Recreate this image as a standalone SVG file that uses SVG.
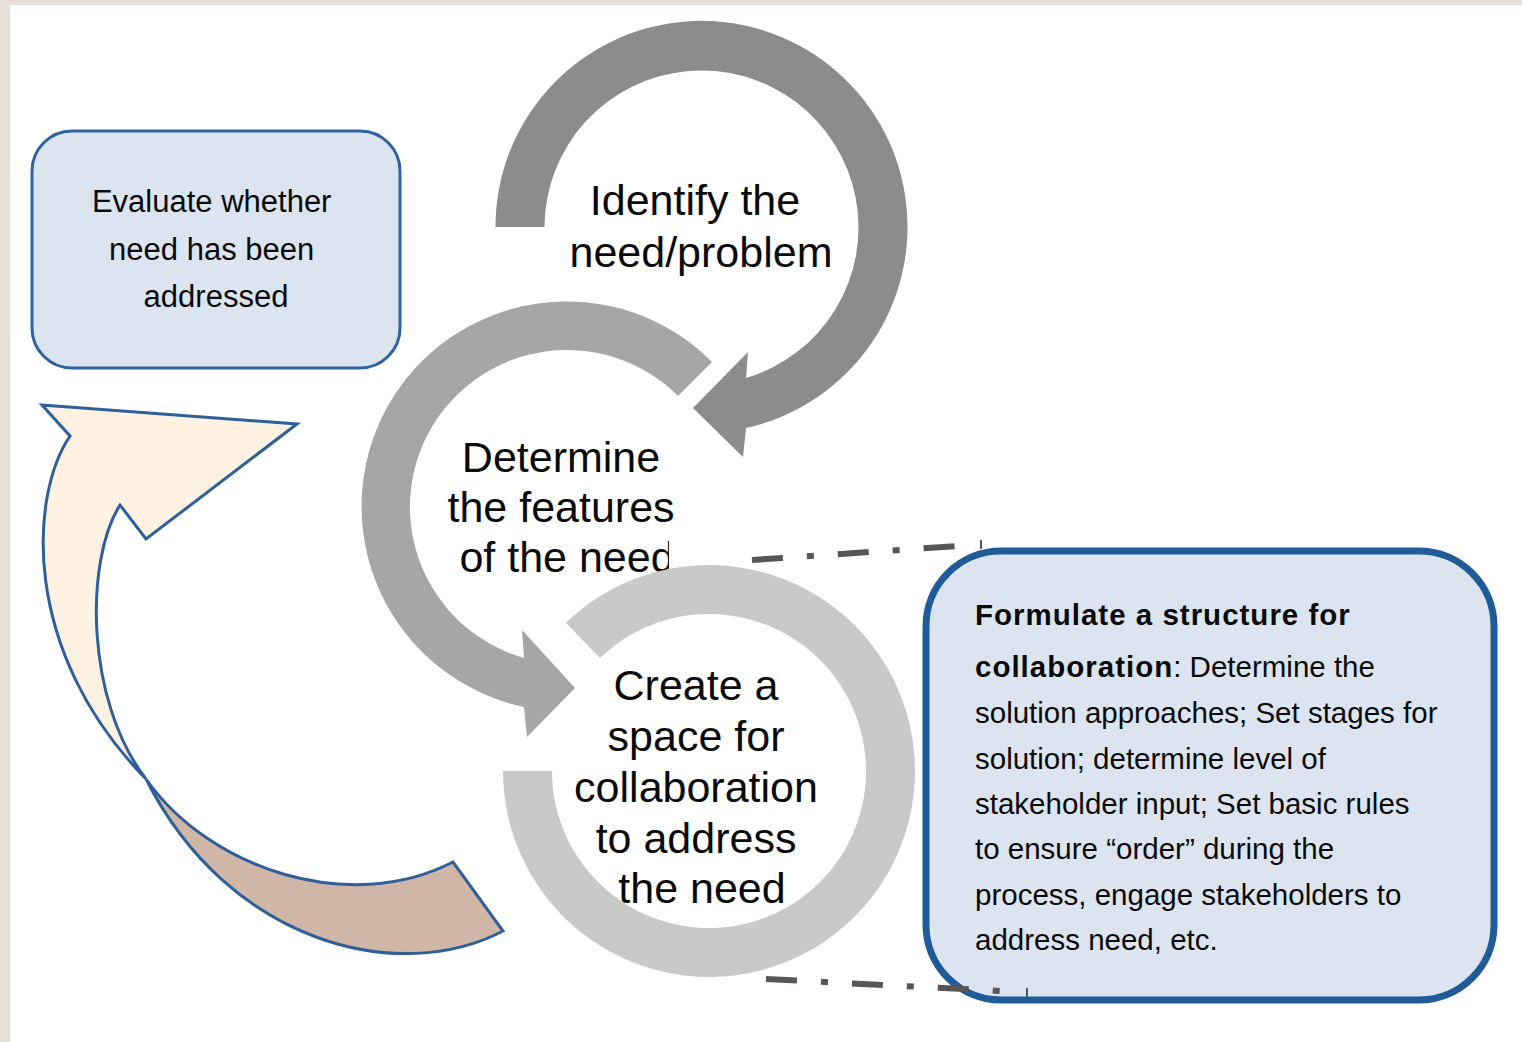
<svg xmlns="http://www.w3.org/2000/svg" width="1522" height="1042" viewBox="0 0 1522 1042">
<style>
  .t { font-family: "Liberation Sans", Arial, sans-serif; fill: #0a0a0a; }
  .big { font-size: 43px; text-anchor: middle; }
  .box { fill: #dce4f0; }
  .b1 { stroke: #2e63a0; stroke-width: 3; }
  .b2 { stroke: #1f5b99; stroke-width: 7; }
  .body { font-size: 29.5px; }
  .bold { font-weight: bold; letter-spacing: 1px; }
  .dd { fill: none; stroke: #595557; stroke-width: 6; stroke-dasharray: 31 24 7 24; }
  .tick { stroke: #595557; stroke-width: 2; }
  .ar { stroke: #2f5f9b; stroke-width: 3; stroke-linejoin: miter; }
</style>
<defs>
  <clipPath id="clipNeed">
    <rect x="430" y="420" width="270" height="113"/>
    <rect x="430" y="533" width="239" height="60"/>
  </clipPath>
</defs>
<rect x="0" y="0" width="1522" height="1042" fill="#ffffff"/>
<rect x="0" y="0" width="1522" height="5" fill="#e8e1da"/>
<rect x="0" y="0" width="10" height="1042" fill="#e8e1da"/>

<g id="evaluate">
  <rect class="box b1" x="32" y="131" width="368" height="237" rx="40" ry="40"/>
  <text class="t" font-size="31" text-anchor="middle">
    <tspan x="216" y="212">Evaluate whether</tspan>
    <tspan x="216" y="260">need has been</tspan>
    <tspan x="216" y="307">addressed</tspan>
  </text>
</g>

<g id="identify">
  <path fill="#8c8c8c" d="M 495.5,227 A 206 206 0 1 1 746,428 L 743,457 L 693,408 L 748,352 L 746,378 A 157 157 0 1 0 544.5,227 Z"/>
  <text class="t big">
    <tspan x="701" y="215">Identify the</tspan>
    <tspan x="701" y="267">need/problem</tspan>
  </text>
</g>

<g id="determine">
  <path fill="#a6a6a6" d="M 712,362 A 205 205 0 1 0 524,707 L 527,737 L 575,688 L 522,630 L 524,658 A 157 157 0 1 1 678,396 Z"/>
  <text class="t big" clip-path="url(#clipNeed)">
    <tspan x="567" y="472">Determine</tspan>
    <tspan x="567" y="522">the features</tspan>
    <tspan x="567" y="572">of the need</tspan>
  </text>
</g>

<g id="create">
  <path fill="#c9c9c9" d="M 503,771 A 206 206 0 1 0 565.9,622.8 L 599.9,658.1 A 157 157 0 1 1 552,771 Z"/>
  <text class="t big">
    <tspan x="702" y="700">Create a</tspan>
    <tspan x="702" y="751">space for</tspan>
    <tspan x="702" y="802">collaboration</tspan>
    <tspan x="702" y="853">to address</tspan>
    <tspan x="702" y="903">the need</tspan>
  </text>
</g>

<g id="return-arrow">
  <path class="ar" fill="#fdf1e1" d="M 70,436 C 30,495 20,650 146,779 C 85,700 85,560 120,505 L 146,539 L 297,424 L 42,405 Z"/>
  <path class="ar" fill="#cfb6a6" d="M 146,779 C 210,870 350,915 453,862 L 503,931 C 400,985 230,945 146,779 Z"/>
</g>

<g id="formulate">
  <rect class="box b2" x="926" y="551" width="568" height="449" rx="75" ry="75"/>
  <text class="t body">
    <tspan x="975" y="625" class="bold">Formulate a structure for</tspan>
    <tspan x="975" y="677"><tspan class="bold">collaboration</tspan>: Determine the</tspan>
    <tspan x="975" y="723">solution approaches; Set stages for</tspan>
    <tspan x="975" y="769">solution; determine level of</tspan>
    <tspan x="975" y="814">stakeholder input; Set basic rules</tspan>
    <tspan x="975" y="859">to ensure “order” during the</tspan>
    <tspan x="975" y="905">process, engage stakeholders to</tspan>
    <tspan x="975" y="950">address need, etc.</tspan>
  </text>
</g>

<g id="connectors">
  <path class="dd" d="M 752,560 L 957,546"/>
  <line class="tick" x1="981" y1="540" x2="981" y2="549"/>
  <path class="dd" d="M 766,979 L 1001,991"/>
  <line class="tick" x1="1027" y1="988" x2="1027" y2="997"/>
</g>
</svg>
